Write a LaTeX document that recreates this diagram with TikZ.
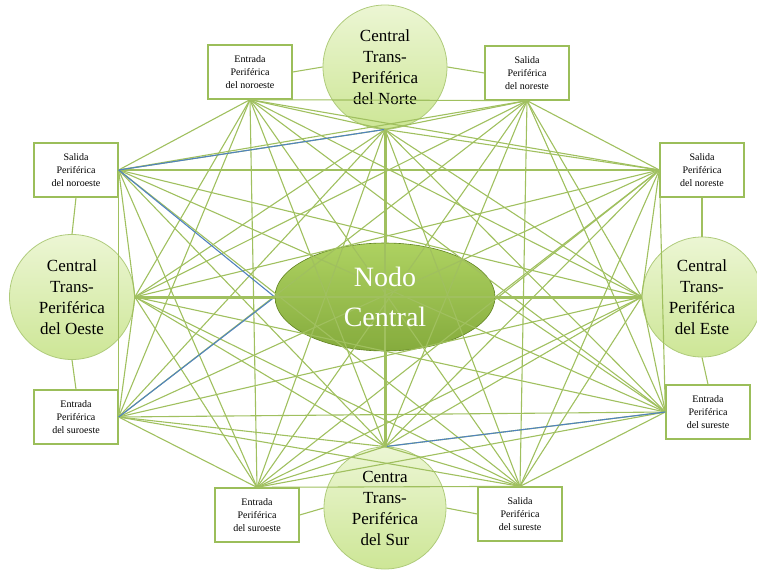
\documentclass[tikz,border=0pt]{standalone}
\usepackage{fontspec}
\setmainfont{Liberation Serif}
\usetikzlibrary{shapes.geometric}
\definecolor{lnk}{RGB}{160,192,95}
\definecolor{bdr}{RGB}{155,190,90}
\definecolor{blu}{RGB}{80,130,190}
\definecolor{ctop}{RGB}{236,246,212}
\definecolor{cbot}{RGB}{205,230,150}
\definecolor{etop}{RGB}{165,205,80}
\definecolor{ebot}{RGB}{120,162,40}
\tikzset{
  link/.style={draw=lnk, line width=1.1pt},
  bluelink/.style={draw=blu, line width=1.1pt},
  hub/.style={draw=lnk, line width=3pt},
  ring/.style={draw=lnk, line width=1.1pt},
  central/.style={circle, draw=bdr!80, line width=0.8pt, top color=ctop, bottom color=cbot,
    font=\fontsize{17}{21}\selectfont, align=center, inner sep=0pt},
  periph/.style={rectangle, draw=bdr, line width=1.3pt, fill=white, minimum width=84pt,
    minimum height=54pt, font=\fontsize{10}{13}\selectfont, align=center, inner sep=1pt},
  hubnode/.style={ellipse, draw=ebot!80!black, line width=0.6pt, top color=etop, bottom color=ebot,
    fill opacity=0.9, minimum width=220pt, minimum height=108pt},
  hubtext/.style={text=white, font=\fontsize{28}{40}\selectfont, align=center}
}
\begin{document}
\begin{tikzpicture}[x=1pt,y=-1pt]
\useasboundingbox (0,0) rectangle (757,570);
% circles
\node[central, minimum size=124pt] (cn) at (385,67) {Central\\Trans-\\Periférica\\del Norte};
\node[central, minimum size=125pt] (cw) at (72,297) {Central\\Trans-\\Periférica\\del Oeste};
\node[central, minimum size=120pt] (ce) at (702,297) {Central\\Trans-\\Periférica\\del Este};
\node[central, minimum size=122pt] (cs) at (385,508) {Centra\\Trans-\\Periférica\\del Sur};
% boxes
\node[periph] (bnw) at (250,72) {Entrada\\Periférica\\del noroeste};
\node[periph] (bne) at (527,73) {Salida\\Periférica\\del noreste};
\node[periph] (lu) at (76,170) {Salida\\Periférica\\del noroeste};
\node[periph] (ru) at (702,170) {Salida\\Periférica\\del noreste};
\node[periph] (ll) at (76,417) {Entrada\\Periférica\\del suroeste};
\node[periph] (rl) at (708,412) {Entrada\\Periférica\\del sureste};
\node[periph] (bsw) at (257,515) {Entrada\\Periférica\\del suroeste};
\node[periph] (bse) at (520,514) {Salida\\Periférica\\del sureste};
% ring
\draw[ring] (bnw.east) -- (cn.west);
\draw[ring] (cn.east) -- (bne.west);
\draw[ring] (lu.south) -- (cw.north);
\draw[ring] (cw.south) -- (ll.north);
\draw[ring] (ru.south) -- (ce.north);
\draw[ring] (ce.south) -- (rl.north);
\draw[ring] (bsw.east) -- (cs.west);
\draw[ring] (cs.east) -- (bse.west);
% center
\node[hubnode] (hub) at (385,297) {};
% mesh
\foreach \a [count=\i] in {cn.south,bne.south,ru.west,ce.west,rl.west,bse.north,cs.north,bsw.north,ll.east,cw.east,lu.east,bnw.south}{
  \foreach \b [count=\j] in {cn.south,bne.south,ru.west,ce.west,rl.west,bse.north,cs.north,bsw.north,ll.east,cw.east,lu.east,bnw.south}{
    \ifnum\j>\i \draw[link] (\a) -- (\b); \fi
  }
}
\draw[link] (hub.east) -- (ru.west);
\draw[link] (hub.east) -- (rl.west);
\draw[bluelink] (lu.east) -- (cn.south);
\draw[bluelink] (lu.east) -- (hub.west);
\draw[bluelink] (hub.west) -- (ll.east);
\draw[bluelink] (cs.north) -- (rl.west);
% hub spokes
\draw[hub] (hub.north) -- (cn.south);
\draw[hub] (hub.south) -- (cs.north);
\draw[hub] (hub.west) -- (cw.east);
\draw[hub] (hub.east) -- (ce.west);
\node[hubtext] (hublabel) at (hub.center) {Nodo\\Central};
\end{tikzpicture}
\end{document}
